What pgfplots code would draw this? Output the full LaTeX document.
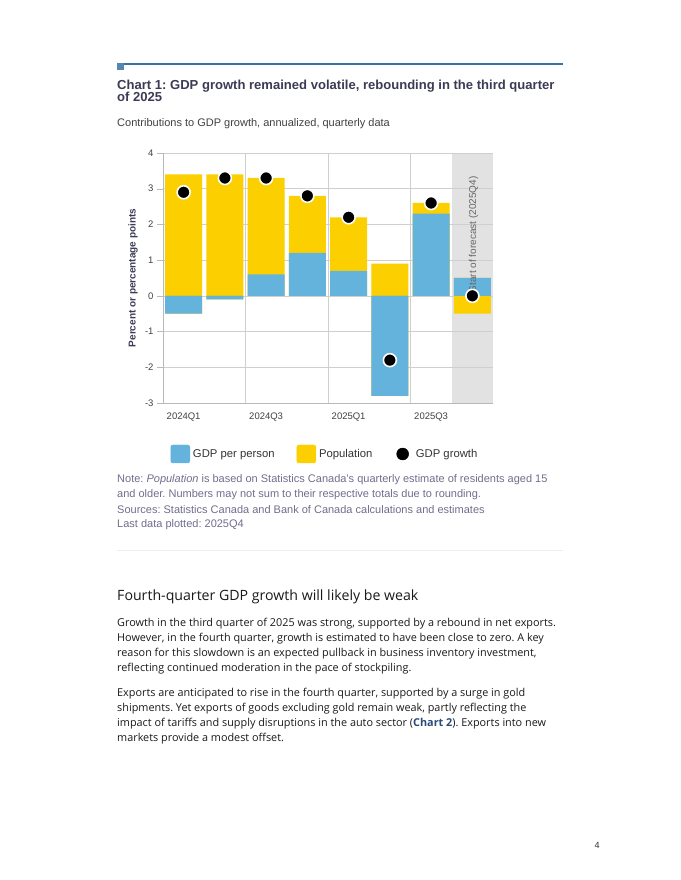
\documentclass[border=0pt]{standalone}
\usepackage{pgfplots}
\pgfplotsset{compat=1.18}
\usepackage{pgfplotstable}
\usepackage{fontspec}
\setmainfont{Liberation Sans}
\newfontfamily\opensans{Open Sans}
\frenchspacing

\definecolor{ppblue}{HTML}{63B3DC}
\definecolor{popyellow}{HTML}{FCD000}
\definecolor{bandgray}{HTML}{E2E2E2}
\definecolor{gridgray}{HTML}{CFCFCF}
\definecolor{rulecol}{HTML}{3A72A2}
\definecolor{titlecol}{HTML}{3B3B55}
\definecolor{notecol}{HTML}{6F6E8C}
\definecolor{linkcol}{HTML}{2A4A78}

% contributions to GDP growth, annualized (pp = GDP per person, pop = population)
\pgfplotstableread{
q pp pop growth
0 -0.5 3.4 2.9
1 -0.1 3.4 3.3
2 0.6 2.7 3.3
3 1.2 1.6 2.8
4 0.7 1.5 2.2
5 -2.8 0.9 -1.8
6 2.3 0.3 2.6
7 0.5 -0.5 0.0
}\gdpdata

\begin{document}
\begin{tikzpicture}
% page extent
\path (0pt,0pt) rectangle (680pt,-880pt);

% header rule
\fill[rulecol] (117pt,-63pt) rectangle (563pt,-65pt);
\fill[rulecol!85!white] (117pt,-63pt) rectangle (124pt,-70pt);

\node[anchor=base west, inner sep=0pt, text=titlecol,
  font=\fontsize{13.05}{15}\selectfont\bfseries] at (117pt,-90pt)
  {Chart 1: GDP growth remained volatile, rebounding in the third quarter};
\node[anchor=base west, inner sep=0pt, text=titlecol,
  font=\fontsize{13.05}{15}\selectfont\bfseries] at (117pt,-102pt) {of 2025};
\node[anchor=base west, inner sep=0pt, text=black!75,
  font=\fontsize{11}{13}\selectfont] at (117pt,-127pt)
  {Contributions to GDP growth, annualized, quarterly data};

\begin{axis}[
  set layers,
  at={(163pt,-153pt)}, anchor=north west,
  scale only axis, width=330pt, height=250pt,
  xmin=-0.5, xmax=7.5, ymin=-3, ymax=4,
  axis lines*=left,
  axis line style={draw=gray!55},
  xtick={0,2,4,6},
  xticklabels={2024Q1,2024Q3,2025Q1,2025Q3},
  extra x ticks={1.5,3.5,5.5},
  extra x tick labels={},
  extra x tick style={grid=major, major tick length=0pt},
  x tick style={draw=none},
  ytick={-3,-2,...,4},
  yticklabels={-3,-2,-1,0,1,2,3,4},
  ymajorgrids=true,
  grid style={draw=gridgray, line width=0.6pt},
  y tick style={draw=gray!55},
  tick align=outside,
  major tick length=6pt,
  tick label style={font=\fontsize{9.5}{11}\selectfont, text=black!75},
  ylabel={Percent or percentage points},
  every axis y label/.style={at={(axis description cs:-0.091,0.5)}, rotate=90,
    anchor=center,
    font=\fontsize{10}{12}\selectfont\bfseries, text=titlecol},
  legend columns=3,
  legend style={at={(axis description cs:0.5,-0.204)}, anchor=center,
    xshift=-3pt, draw=none, fill=none,
    font=\fontsize{11.3}{13}\selectfont, text=black!80,
    /tikz/every even column/.append style={column sep=20pt}},
]
% forecast band
\addplot[fill=bandgray, draw=none, on layer=axis background, forget plot]
  coordinates {(6.5,-3) (7.5,-3) (7.5,4) (6.5,4)} -- cycle;

\addlegendimage{legend image code/.code={\fill[ppblue, rounded corners=2pt] (0pt,-9pt) rectangle (19pt,9pt); \path (20pt,0pt);}}
\addlegendentry{GDP per person}
\addlegendimage{legend image code/.code={\fill[popyellow, rounded corners=2pt] (0pt,-9pt) rectangle (19pt,9pt); \path (20pt,0pt);}}
\addlegendentry{Population}
\addlegendimage{legend image code/.code={\path (0pt,0pt) (19pt,0pt); \fill[black] (8pt,0pt) circle (6pt);}}
\addlegendentry{GDP growth}

% positive parts stacked from zero, negative parts stacked below zero
\addplot[ybar, bar width=0.9, bar shift=0pt, fill=popyellow, draw=none, forget plot]
  table[x=q, y expr={max(\thisrow{pp},0)+max(\thisrow{pop},0)}] {\gdpdata};
\addplot[ybar, bar width=0.9, bar shift=0pt, fill=popyellow, draw=none, forget plot]
  table[x=q, y expr={min(\thisrow{pp},0)+min(\thisrow{pop},0)}] {\gdpdata};
\addplot[ybar, bar width=0.9, bar shift=0pt, fill=ppblue, draw=none, forget plot]
  table[x=q, y expr={max(\thisrow{pp},0)}] {\gdpdata};
\addplot[ybar, bar width=0.9, bar shift=0pt, fill=ppblue, draw=none, forget plot]
  table[x=q, y expr={min(\thisrow{pp},0)}] {\gdpdata};

\addplot[only marks, mark=*, mark size=6.5pt,
  mark options={fill=black, draw=white, line width=1.6pt}, forget plot]
  table[x=q, y=growth] {\gdpdata};

\node[rotate=90, anchor=east, inner sep=0pt, text=black!60,
  font=\fontsize{10}{12}\selectfont] at (axis cs:7.03,3.35) {Start of forecast (2025Q4)};
\end{axis}

% notes
\begin{scope}[every node/.style={anchor=base west, inner sep=0pt, text=notecol,
  font=\fontsize{11}{13}\selectfont}]
\node at (117pt,-482pt) {Note: \textit{Population} is based on Statistics Canada’s quarterly estimate of residents aged 15};
\node at (117pt,-497pt) {and older. Numbers may not sum to their respective totals due to rounding.};
\node at (117pt,-513pt) {Sources: Statistics Canada and Bank of Canada calculations and estimates};
\node at (117pt,-527pt) {Last data plotted: 2025Q4};
\end{scope}

\draw[black!7, line width=1pt] (117pt,-550pt) -- (563pt,-550pt);

\node[anchor=base west, inner sep=0pt, text=black!90,
  font=\opensans\fontsize{14.15}{16}\selectfont] at (117pt,-600pt)
  {Fourth-quarter GDP growth will likely be weak};

\begin{scope}[every node/.style={anchor=base west, inner sep=0pt, text=black!90,
  font=\opensans\fontsize{10.85}{13}\selectfont}]
\node at (117pt,-626pt) {Growth in the third quarter of 2025 was strong, supported by a rebound in net exports.};
\node at (117pt,-641pt) {However, in the fourth quarter, growth is estimated to have been close to zero. A key};
\node at (117pt,-656pt) {reason for this slowdown is an expected pullback in business inventory investment,};
\node at (117pt,-671pt) {reflecting continued moderation in the pace of stockpiling.};
\node at (117pt,-696pt) {Exports are anticipated to rise in the fourth quarter, supported by a surge in gold};
\node at (117pt,-711pt) {shipments. Yet exports of goods excluding gold remain weak, partly reflecting the};
\node at (117pt,-726pt) {impact of tariffs and supply disruptions in the auto sector ({\bfseries\color{linkcol}Chart 2}). Exports into new};
\node at (117pt,-741pt) {markets provide a modest offset.};
\end{scope}

\node[anchor=base, inner sep=0pt, font=\fontsize{9}{11}\selectfont, text=black!80]
  at (597pt,-848pt) {4};
\end{tikzpicture}
\end{document}
